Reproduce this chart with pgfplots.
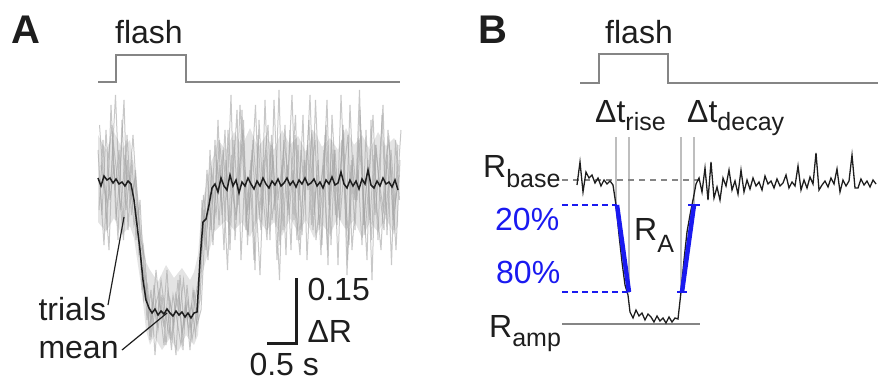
\documentclass[border=0pt]{standalone}
\usepackage{fontspec}
\setmainfont{Liberation Sans}
\usepackage{pgfplots}
\pgfplotsset{compat=1.18}
\usepackage{pgfplotstable}
\definecolor{fg}{HTML}{1E1E1E}
\definecolor{stepgray}{HTML}{858585}
\definecolor{guide}{HTML}{BEBEBE}
\definecolor{trial}{HTML}{A4A4A4}
\definecolor{fblue}{HTML}{1A1AF0}
\newcommand\fs[1]{\fontsize{#1}{#1}\selectfont}

% Panel A single trials (pixel coordinates, y downward)
\pgfplotstableread{
x t1 t2 t3 t4 t5
98 150 210 185 165 125
102 215 140 245 195 180
106 130 230 160 250 205
110 200 105 125 140 170
114 165 190 220 175 95
118 240 150 175 210 195
122 120 225 100 155 240
126 210 135 230 190 160
130 175 200 160 135 215
134 225 180 240 200 170
138 210 255 200 240 225
142 290 245 280 260 300
146 275 320 305 330 285
150 340 290 320 300 335
154 285 355 270 325 305
158 330 300 310 280 290
162 295 320 345 310 325
166 345 270 290 335 310
170 300 340 315 295 350
174 325 310 355 320 295
178 280 295 275 345 315
182 335 350 325 305 280
186 305 285 300 330 320
190 350 330 340 290 305
194 290 300 315 325 335
198 320 275 300 310 285
202 200 240 210 230 195
206 250 170 260 195 225
210 150 230 185 245 170
214 230 140 215 160 200
218 120 225 165 200 140
222 215 150 250 130 185
226 160 200 130 235 270
230 250 95 190 180 155
234 140 240 215 110 220
238 205 175 105 260 190
242 110 130 180 170 120
246 230 215 235 210 245
250 170 160 150 140 175
254 260 270 200 190 105
258 135 120 275 230 215
262 210 195 165 100 160
266 150 240 125 205 230
270 240 145 220 155 135
274 100 210 185 260 195
278 200 90 245 185 280
282 165 230 140 125 150
286 255 165 175 215 210
290 130 250 95 170 175
294 220 135 210 240 115
298 145 200 255 150 240
302 235 115 160 200 185
306 175 260 190 120 145
310 95 175 130 230 225
314 215 140 240 175 100
318 160 225 200 255 195
322 245 185 150 135 165
326 125 100 265 205 250
330 210 245 115 160 140
334 150 150 185 225 215
338 265 210 220 95 180
342 140 125 170 190 130
346 225 275 135 245 260
350 105 165 250 155 160
354 200 230 195 200 200
358 170 140 110 130 90
362 245 190 225 235 225
366 130 260 160 180 170
370 220 120 280 115 240
374 155 215 145 210 145
378 240 170 195 250 185
382 115 105 230 165 210
386 215 235 130 140 155
390 160 150 180 220 265
394 230 205 250 190 140
398 145 175 160 130 200
}\trialsA

% Panel A: dense core of the trial cloud (outline: upper edge, then lower edge back)
\pgfplotstableread{
x y
98 135
106 150
114 132
122 148
130 140
134 165
138 195
142 232
146 262
150 270
158 282
166 265
174 278
182 268
190 280
194 272
198 255
202 205
206 185
210 165
214 155
218 140
226 150
234 132
242 146
250 128
258 148
266 135
274 150
282 130
290 145
298 136
306 152
314 130
322 147
330 138
338 150
346 128
354 145
362 135
370 150
378 132
386 146
394 138
398 145
398 225
394 235
386 218
378 232
370 222
362 238
354 220
346 230
338 217
330 235
322 224
314 238
306 220
298 232
290 218
282 236
274 222
266 230
258 218
250 237
242 222
234 230
226 220
218 228
214 232
210 248
206 260
202 275
198 335
194 345
186 335
178 352
170 338
162 350
154 336
150 345
146 330
142 292
138 265
134 238
130 226
122 235
114 218
106 232
98 222
}\bandA

% Panel A mean trace
\pgfplotstableread{
x y
98 178
101 186
104 176
107 180
110 178
113 183
116 179
119 184
122 182
125 186
128 181
131 184
134 200
137 225
140 250
143 280
146 300
149 308
152 313
155 309
158 315
161 311
164 314
167 309
170 313
173 316
176 311
179 315
182 312
185 317
188 313
191 318
194 313
197 312
200 260
203 222
206 219
209 205
212 188
215 184
218 192
221 178
224 186
227 190
230 175
233 186
236 180
239 193
242 182
245 186
248 178
251 184
254 189
257 181
260 186
263 178
266 184
269 188
272 181
275 185
278 179
281 186
284 183
287 178
290 185
293 181
296 187
299 180
302 184
305 178
308 185
311 183
314 179
317 186
320 182
323 188
326 180
329 184
332 177
335 185
338 183
341 172
344 184
347 188
350 180
353 186
356 181
359 189
362 179
365 184
368 170
371 185
374 188
377 181
380 186
383 178
386 184
389 182
392 187
395 180
398 190
}\meanA

% Panel B example trace
\pgfplotstableread{
x y
577 185
580 162
583 192
586 172
589 178
592 175
595 183
598 178
601 186
604 180
607 184
610 181
613 185
616 205
619 235
622 262
625 285
628 295
630 312
633 318
636 310
639 316
642 313
645 320
648 314
651 317
654 322
657 316
660 321
663 318
666 323
669 317
672 322
675 318
678 319
681 292
684 260
687 232
690 215
693 200
696 184
699 178
702 192
705 168
708 200
711 162
714 198
717 187
720 200
723 178
726 186
729 170
732 190
735 181
738 194
741 170
744 192
747 180
750 189
753 178
756 186
759 182
762 190
765 176
768 184
771 181
774 188
777 179
780 186
783 183
786 175
789 188
792 182
795 186
798 166
801 190
804 180
807 188
810 177
813 184
816 153
819 190
822 185
825 181
828 187
831 178
834 184
837 169
840 192
843 180
846 186
849 181
852 155
855 188
858 188
861 179
864 185
867 181
870 187
873 180
876 184
}\traceB

\begin{document}
\begin{tikzpicture}
\useasboundingbox (0,0) rectangle (878pt,381pt);
\begin{axis}[at={(0,0)}, anchor=south west, scale only axis,
  width=878pt, height=381pt, xmin=0, xmax=878, ymin=0, ymax=381,
  y dir=reverse, hide axis, clip=false, no markers]

% ---------- Panel A ----------
\addplot[stepgray, line width=2.2pt] coordinates {(98,82)(116,82)(116,55)(186,55)(186,82)(400,82)};
% dense core of the trial cloud
\addplot[draw=none, fill=trial, fill opacity=0.3] table[x=x, y=y]{\bandA};
\addplot[trial, line width=1pt, opacity=0.6] table[x expr=\thisrow{x}, y=t1]{\trialsA};
\addplot[trial, line width=1pt, opacity=0.6] table[x expr=\thisrow{x}+1, y=t2]{\trialsA};
\addplot[trial, line width=1pt, opacity=0.6] table[x expr=\thisrow{x}+2, y=t3]{\trialsA};
\addplot[trial, line width=1pt, opacity=0.6] table[x expr=\thisrow{x}+3, y=t4]{\trialsA};
\addplot[trial, line width=1pt, opacity=0.6] table[x expr=\thisrow{x}+1.5, y=t5]{\trialsA};
\addplot[fg, line width=1.5pt] table[x=x, y=y]{\meanA};
% pointer lines
\addplot[fg, line width=1.2pt] coordinates {(108,305)(124,217)};
\addplot[fg, line width=1.2pt] coordinates {(122,350)(167,313)};
% scale bar
\addplot[fg, line width=3pt] coordinates {(267,343)(296,343)(296,278)};

\node[anchor=base west, font=\fs{40}\bfseries, text=fg] at (axis cs:8,43) {A};
\node[anchor=base, font=\fs{32}, text=fg] at (axis cs:149,43) {flash};
\node[anchor=base west, font=\fs{32}, text=fg] at (axis cs:35,320) {trials};
\node[anchor=base west, font=\fs{32}, text=fg] at (axis cs:35,358) {mean};
\node[anchor=base west, font=\fs{32}, text=fg] at (axis cs:304,300) {0.15};
\node[anchor=base west, font=\fs{32}, text=fg] at (axis cs:304,342) {ΔR};
\node[anchor=base west, font=\fs{32}, text=fg] at (axis cs:246,375) {0.5 s};

% ---------- Panel B ----------
\addplot[stepgray, line width=2.2pt] coordinates {(580,83)(599,83)(599,54)(668,54)(668,83)(878,83)};
% guide lines
\addplot[guide, line width=1.2pt] coordinates {(616,137)(616,205)};
\addplot[guide, line width=1.2pt] coordinates {(629,137)(629,293)};
\addplot[guide, line width=1.2pt] coordinates {(681,137)(681,293)};
\addplot[guide, line width=1.2pt] coordinates {(694,137)(694,205)};
% baseline and amplitude
\addplot[stepgray, line width=1.6pt, dash pattern=on 6pt off 5pt] coordinates {(562,180)(705,180)};
\addplot[stepgray, line width=2.2pt] coordinates {(562,324)(700,324)};
% trace
\addplot[fg, line width=1.3pt] table[x=x, y=y]{\traceB};
% 20% / 80% levels
\addplot[fblue, line width=2.2pt, dash pattern=on 6pt off 4pt] coordinates {(562,205)(617,205)};
\addplot[fblue, line width=2.2pt, dash pattern=on 6pt off 4pt] coordinates {(562,292)(629,292)};
\addplot[fblue, line width=4.5pt] coordinates {(617,205)(629,292)};
\addplot[fblue, line width=4.5pt] coordinates {(682,292)(694,205)};
\addplot[fblue, line width=2pt] coordinates {(688,205)(700,205)};
\addplot[fblue, line width=2pt] coordinates {(677,292)(687,292)};

\node[anchor=base west, font=\fs{40}\bfseries, text=fg] at (axis cs:475,43) {B};
\node[anchor=base, font=\fs{32}, text=fg] at (axis cs:639,43) {flash};
\node[anchor=base west, font=\fs{32}, text=fg, inner sep=0pt] at (axis cs:595,122) {Δt\raisebox{-8pt}{\fs{25}rise}};
\node[anchor=base west, font=\fs{32}, text=fg, inner sep=0pt] at (axis cs:687,122) {Δt\raisebox{-8pt}{\fs{25}decay}};
\node[anchor=base west, font=\fs{32}, text=fg, inner sep=0pt] at (axis cs:483,177) {R\raisebox{-10pt}{\fs{25}base}};
\node[anchor=base west, font=\fs{32}, text=fblue, inner sep=0pt] at (axis cs:495,230) {20\%};
\node[anchor=base west, font=\fs{32}, text=fblue, inner sep=0pt] at (axis cs:496,283) {80\%};
\node[anchor=base west, font=\fs{32}, text=fg, inner sep=0pt] at (axis cs:634,240) {R\raisebox{-12pt}{\fs{25}A}};
\node[anchor=base west, font=\fs{32}, text=fg, inner sep=0pt] at (axis cs:489,337) {R\raisebox{-9pt}{\fs{25}amp}};
\end{axis}
\end{tikzpicture}
\end{document}
